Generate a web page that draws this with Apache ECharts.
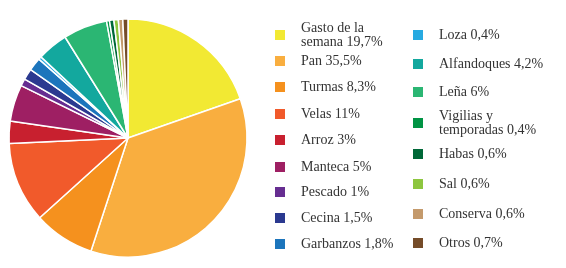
<!DOCTYPE html>
<html>
<head>
<meta charset="utf-8">
<script src="https://cdn.jsdelivr.net/npm/echarts@6/dist/echarts.min.js"></script>
<style>html,body{margin:0;padding:0;background:#fff;}#c{width:566px;height:268px;}</style>
</head>
<body>
<div id="c"></div>
<script>
const categories = ['Gasto de la semana','Pan','Turmas','Velas','Arroz','Manteca','Pescado','Cecina','Garbanzos','Loza','Alfandoques','Leña','Vigilias y temporadas','Habas','Sal','Conserva','Otros'];
const values = [19.7,35.5,8.3,11,3,5,1,1.5,1.8,0.4,4.2,6,0.4,0.6,0.6,0.6,0.7];
const legendLabels = ['Gasto de la\nsemana 19,7%','Pan 35,5%','Turmas 8,3%','Velas 11%','Arroz 3%','Manteca 5%','Pescado 1%','Cecina 1,5%','Garbanzos 1,8%','Loza 0,4%','Alfandoques 4,2%','Leña 6%','Vigilias y\ntemporadas 0,4%','Habas 0,6%','Sal 0,6%','Conserva 0,6%','Otros 0,7%'];
const colors = ['#F2E933','#F9AE3F','#F5911E','#F15A2B','#C8202F','#9E1F63','#662D91','#2B3990','#1C75BC','#27AAE1','#13A89E','#2BB673','#009444','#006838','#8DC63F','#C49A6C','#754C29'];

const labelMap = {};
categories.forEach((c,i)=>{ labelMap[c] = legendLabels[i]; });

// legend layout: [left, top]
const legendPos = [
  [273,21],[273,54],[273,80],[273,107],[273,133],[273,160],[273,185],[273,211],[273,237],
  [411,28],[411,57],[411,85],[411,109],[411,147],[411,177],[411,207],[411,236]
];

const legends = categories.map((c,i)=>({
  data:[c],
  orient:'vertical',
  left:legendPos[i][0],
  top:legendPos[i][1],
  padding:0,
  icon:'rect',
  itemWidth:12,
  itemHeight:12,
  selectedMode:false,
  formatter:(n)=>labelMap[n],
  textStyle:{fontFamily:'Liberation Serif',fontSize:14,lineHeight:14,color:'#333',padding:[0,0,0,10]}
}));

const chart = echarts.init(document.getElementById('c'), null, {renderer:'canvas'});
chart.setOption({
  animation:false,
  color:colors,
  legend:legends,
  series:[{
    type:'pie',
    center:[128,138],
    radius:[0,119],
    startAngle:90,
    clockwise:true,
    label:{show:false},
    labelLine:{show:false},
    emphasis:{disabled:true},
    itemStyle:{borderColor:'#fff',borderWidth:1.5},
    data:categories.map((c,i)=>({name:c,value:values[i]}))
  }]
});
</script>
</body>
</html>
